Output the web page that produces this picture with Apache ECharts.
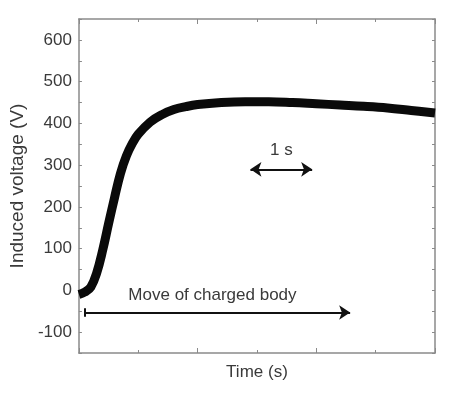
<!DOCTYPE html>
<html>
<head>
<meta charset="utf-8">
<script src="https://cdn.jsdelivr.net/npm/echarts@6/dist/echarts.min.js"></script>
<style>
html,body{margin:0;padding:0;background:#fff;}
#c{width:460px;height:393px;}
</style>
</head>
<body>
<div id="c"></div>
<script>
// Data
var times  = [0, 0.1, 0.2, 0.3, 0.4, 0.5, 0.6, 0.7, 0.8, 0.9, 1.0, 1.2, 1.4, 1.6, 1.8, 2.0, 2.4, 2.8, 3.2, 3.6, 4.0, 4.4, 4.8, 5.2, 5.6, 6.0];
var voltage = [-10, -4, 8, 42, 96, 160, 222, 280, 322, 352, 374, 403, 421, 433, 440, 445, 450, 452, 452, 450, 447, 444, 441, 437, 431, 425];
var yTicks = [-100, 0, 100, 200, 300, 400, 500, 600];
var xName = 'Time (s)';
var yName = 'Induced voltage (V)';
var moveArrow = {start: [0.1, -53], end: [4.57, -53], text: 'Move of charged body', textPos: [2.25, -12]};
var secArrow = {start: [2.89, 290], end: [3.93, 290], text: '1 s', textPos: [3.41, 336]};

var seriesData = times.map(function (t, i) { return [t, voltage[i]]; });
var font = "'Liberation Sans', Arial, sans-serif";
var axisGray = '#8a8a8a';
var textCol = '#3a3a3a';

var chart = echarts.init(document.getElementById('c'), null, {renderer: 'canvas'});
chart.setOption({
  animation: false,
  backgroundColor: '#fff',
  grid: {left: 78, right: 25, top: 19, bottom: 40, containLabel: false},
  xAxis: [{
    type: 'value', min: 0, max: 6, interval: 2, position: 'bottom',
    name: xName, nameLocation: 'middle', nameGap: 11,
    nameTextStyle: {fontFamily: font, fontSize: 17, color: textCol},
    axisLine: {show: true, onZero: false, lineStyle: {color: axisGray, width: 1.5}},
    axisTick: {show: true, inside: true, length: 5, lineStyle: {color: axisGray}},
    minorTick: {show: true, splitNumber: 2, length: 3, lineStyle: {color: axisGray}},
    axisLabel: {show: false},
    splitLine: {show: false}
  }, {
    type: 'value', min: 0, max: 6, interval: 2, position: 'top',
    axisLine: {show: true, onZero: false, lineStyle: {color: axisGray, width: 1.5}},
    axisTick: {show: true, inside: true, length: 5, lineStyle: {color: axisGray}},
    minorTick: {show: true, splitNumber: 2, length: 3, lineStyle: {color: axisGray}},
    axisLabel: {show: false},
    splitLine: {show: false}
  }],
  yAxis: [{
    type: 'value', min: -150, max: 650, interval: 50, position: 'left',
    name: yName, nameLocation: 'middle', nameGap: 46,
    nameTextStyle: {fontFamily: font, fontSize: 19, color: textCol},
    axisLine: {show: true, onZero: false, lineStyle: {color: axisGray, width: 1.5}},
    axisTick: {show: true, inside: true, length: 3, lineStyle: {color: axisGray}},
    axisLabel: {
      show: true, margin: 7, fontFamily: font, fontSize: 17, color: textCol,
      formatter: function (v) { return yTicks.indexOf(v) >= 0 ? String(v) : ''; }
    },
    splitLine: {show: false}
  }, {
    type: 'value', min: -150, max: 650, interval: 50, position: 'right',
    axisLine: {show: true, onZero: false, lineStyle: {color: axisGray, width: 1.5}},
    axisTick: {show: true, inside: true, length: 3, lineStyle: {color: axisGray}},
    axisLabel: {show: false},
    splitLine: {show: false}
  }],
  series: [{
    type: 'line',
    xAxisIndex: 0, yAxisIndex: 0,
    data: seriesData,
    smooth: 0.4,
    symbol: 'none',
    clip: true,
    lineStyle: {color: '#0a0a0a', width: 9, cap: 'butt', join: 'round'},
    markLine: {
      silent: true,
      animation: false,
      label: {show: false},
      lineStyle: {color: '#111', width: 2, type: 'solid'},
      symbolSize: 11,
      data: [
        [{coord: moveArrow.start, symbol: 'none'}, {coord: moveArrow.end, symbol: 'arrow'}],
        [{coord: [moveArrow.start[0], moveArrow.start[1] + 10], symbol: 'none'}, {coord: [moveArrow.start[0], moveArrow.start[1] - 10], symbol: 'none'}],
        [{coord: secArrow.start, symbol: 'arrow'}, {coord: secArrow.end, symbol: 'arrow'}]
      ]
    },
    markPoint: {
      silent: true,
      symbol: 'circle',
      symbolSize: 0,
      itemStyle: {color: 'rgba(0,0,0,0)'},
      label: {show: true, position: 'inside', fontFamily: font, fontSize: 17, color: textCol,
               formatter: function (p) { return p.name; }},
      data: [
        {name: moveArrow.text, coord: moveArrow.textPos},
        {name: secArrow.text, coord: secArrow.textPos}
      ]
    }
  }]
});
</script>
</body>
</html>
